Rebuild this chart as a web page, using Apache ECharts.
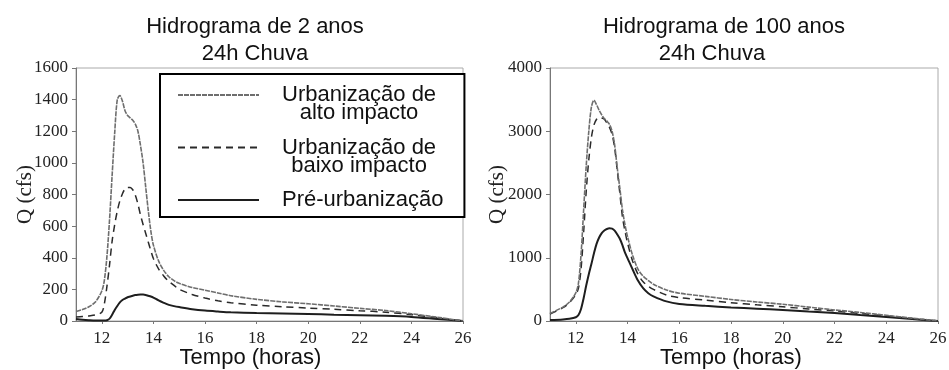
<!DOCTYPE html>
<html>
<head>
<meta charset="utf-8">
<script src="https://cdn.jsdelivr.net/npm/echarts@6/dist/echarts.min.js"></script>
<style>
  html, body { margin: 0; padding: 0; background: #fff; }
  #chart { width: 949px; height: 370px; }
</style>
</head>
<body>
<div id="chart"></div>
<script>
// Series names (shared by both hydrographs)
const seriesNames = [
  'Urbanização de alto impacto',
  'Urbanização de baixo impacto',
  'Pré-urbanização'
];
// Two-line legend captions for each series
const legendCaptions = [
  ['Urbanização de', 'alto impacto'],
  ['Urbanização de', 'baixo impacto'],
  ['Pré-urbanização', ' ']
];

// 2-year storm, 24 h rainfall: time (h) and discharge Q (cfs)
const hours2 = [11, 11.25, 11.5, 11.75, 12, 12.1, 12.2, 12.3, 12.4, 12.5, 12.6, 12.7, 12.8, 12.9,
  13, 13.1, 13.2, 13.3, 13.4, 13.5, 13.6, 13.7, 13.8, 13.9, 14, 14.2, 14.4, 14.6, 14.8,
  15, 15.5, 16, 16.5, 17, 18, 19, 20, 21, 22, 23, 24, 25, 26];
const alto2 = [60, 72, 90, 120, 190, 259, 410, 640, 920, 1190, 1400, 1425, 1390, 1330,
  1300, 1285, 1270, 1245, 1200, 1110, 1000, 850, 700, 570, 480, 380, 320, 280, 255,
  238, 212, 195, 177, 160, 137, 121, 109, 95, 80, 66, 46, 24, 0];
const baixo2 = [25, 28, 32, 38, 55, 110, 220, 355, 505, 610, 695, 760, 805, 835,
  845, 845, 830, 795, 740, 670, 610, 555, 500, 445, 395, 330, 285, 250, 225,
  200, 168, 145, 128, 115, 100, 90, 82, 74, 65, 56, 40, 20, 0];
const pre2 = [12, 8, 5, 3, 3, 3, 5, 15, 40, 70, 95, 118, 133, 142,
  150, 155, 160, 164, 166, 167, 167, 165, 160, 155, 148, 130, 115, 102, 94,
  88, 75, 66, 60, 55, 50, 47, 44, 40, 37, 33, 26, 13, 0];

// 100-year storm, 24 h rainfall
const hours100 = [11, 11.5, 11.75, 12, 12.1, 12.2, 12.3, 12.4, 12.5, 12.6, 12.7, 12.8, 12.9,
  13, 13.1, 13.2, 13.3, 13.4, 13.5, 13.6, 13.7, 13.8, 13.9, 14, 14.2, 14.4, 14.6, 14.8,
  15, 15.5, 16, 17, 18, 19, 20, 21, 22, 23, 24, 25, 26];
const alto100 = [120, 220, 300, 450, 600, 1050, 1750, 2450, 3000, 3380, 3490, 3420, 3330,
  3260, 3200, 3160, 3110, 3000, 2780, 2420, 2100, 1760, 1520, 1330, 1030, 820, 710, 640,
  580, 490, 440, 390, 340, 300, 265, 220, 175, 135, 90, 45, 0];
const baixo100 = [110, 210, 290, 420, 520, 820, 1400, 2050, 2550, 2900, 3100, 3190, 3220,
  3210, 3190, 3130, 3060, 2950, 2740, 2380, 2020, 1650, 1420, 1230, 940, 740, 620, 550,
  500, 410, 370, 330, 290, 255, 225, 190, 160, 120, 80, 40, 0];
const pre100 = [15, 25, 35, 60, 95, 190, 360, 560, 740, 900, 1070, 1220, 1320,
  1390, 1430, 1455, 1465, 1460, 1430, 1370, 1300, 1200, 1080, 990, 810, 640, 520, 440,
  390, 310, 270, 240, 215, 195, 175, 150, 125, 95, 65, 30, 0];

// Axis tick values
const timeTicks = [12, 14, 16, 18, 20, 22, 24, 26];

const pairs = (xs, ys) => xs.map((x, i) => [x, ys[i]]);

const lineStyles = [
  { color: '#6e6e6e', width: 1.6, type: [5, 1] },
  { color: '#2a2a2a', width: 1.5, type: [7, 5] },
  { color: '#1e1e1e', width: 2, type: 'solid' }
];

const serifAxisText = { fontFamily: 'Liberation Serif', fontSize: 17, color: '#222' };
const sansName = { fontFamily: 'Liberation Sans', fontSize: 22, color: '#111' };

function xAxisFor(gridIndex, shift) {
  return {
    type: 'value', gridIndex, min: 11, max: 26,
    name: 'Tempo (horas)', nameLocation: 'middle', nameGap: 26, nameMoveOverlap: false,
    nameTextStyle: Object.assign({ padding: [0, shift, 0, 0] }, sansName),
    axisLine: { lineStyle: { color: '#777', width: 1 } },
    axisTick: { show: true, length: 3, customValues: timeTicks, lineStyle: { color: '#777' } },
    axisLabel: Object.assign({ margin: 9, customValues: timeTicks }, serifAxisText),
    splitLine: { show: false }
  };
}

function yAxisFor(gridIndex, max, interval, gap) {
  return {
    type: 'value', gridIndex, min: 0, max, interval,
    name: 'Q (cfs)', nameLocation: 'middle', nameGap: gap, nameMoveOverlap: false,
    nameTextStyle: { fontFamily: 'Liberation Serif', fontSize: 21, color: '#222' },
    axisLine: { show: true, lineStyle: { color: '#777', width: 1 } },
    axisTick: { show: true, length: 4, lineStyle: { color: '#777' } },
    axisLabel: Object.assign({ margin: 8, formatter: v => String(v) }, serifAxisText),
    splitLine: { show: false }
  };
}

function seriesFor(gridIndex, hours, groups) {
  return groups.map((vals, k) => ({
    name: seriesNames[k],
    type: 'line',
    xAxisIndex: gridIndex, yAxisIndex: gridIndex,
    data: pairs(hours, vals),
    showSymbol: false, symbol: 'none',
    smooth: 0.3,
    lineStyle: lineStyles[k],
    itemStyle: { color: lineStyles[k].color },
    z: 3 - k,
    silent: true
  }));
}

const titleStyle = { fontFamily: 'Liberation Sans', fontSize: 22, fontWeight: 'normal', color: '#111' };

const gridBase = { top: 68, bottom: 49, show: true, borderColor: '#aaa', borderWidth: 1,
  backgroundColor: 'transparent', outerBoundsMode: 'none', containLabel: false };

const option = {
  animation: false,
  backgroundColor: '#fff',
  title: [
    { text: 'Hidrograma de 2 anos', left: 255, top: 16, textAlign: 'center', padding: 0, textStyle: titleStyle },
    { text: '24h Chuva', left: 255, top: 43, textAlign: 'center', padding: 0, textStyle: titleStyle },
    { text: 'Hidrograma de 100 anos', left: 724, top: 16, textAlign: 'center', padding: 0, textStyle: titleStyle },
    { text: '24h Chuva', left: 712, top: 43, textAlign: 'center', padding: 0, textStyle: titleStyle }
  ],
  grid: [
    Object.assign({ left: 76, right: 486 }, gridBase),
    Object.assign({ left: 550, right: 11 }, gridBase)
  ],
  legend: {
    data: seriesNames,
    orient: 'vertical',
    left: 160, top: 74,
    padding: [-8, 21, -12, 17],
    itemGap: -5.5,
    itemWidth: 81, itemHeight: 14,
    selectedMode: false,
    borderColor: '#000', borderWidth: 2,
    backgroundColor: '#fff',
    itemStyle: { opacity: 0 },
    formatter: name => {
      const cap = legendCaptions[seriesNames.indexOf(name)];
      return ['{c| }', '{c|' + cap[0] + '}', '{c|' + cap[1] + '}'].join('\n');
    },
    textStyle: {
      padding: [0, 0, 0, 18],
      rich: {
        c: { fontFamily: 'Liberation Sans', fontSize: 22, lineHeight: 18, color: '#111', align: 'center' }
      }
    }
  },
  xAxis: [xAxisFor(0, 38), xAxisFor(1, 26)],
  yAxis: [yAxisFor(0, 1600, 200, 40), yAxisFor(1, 4000, 1000, 42)],
  series: [
    ...seriesFor(0, hours2, [alto2, baixo2, pre2]),
    ...seriesFor(1, hours100, [alto100, baixo100, pre100])
  ]
};

const chart = echarts.init(document.getElementById('chart'), null, { renderer: 'canvas' });
chart.setOption(option);
</script>
</body>
</html>
